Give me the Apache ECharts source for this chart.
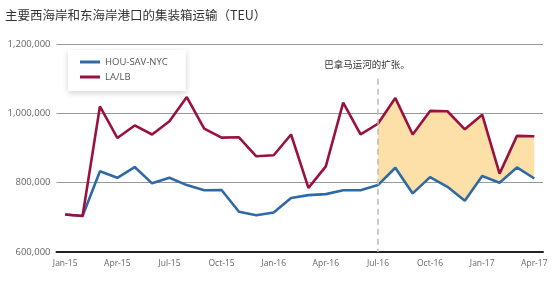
<!DOCTYPE html>
<html><head><meta charset="utf-8">
<script src="https://cdn.jsdelivr.net/npm/echarts@6/dist/echarts.min.js"></script>
<style>html,body{margin:0;padding:0;background:#fff}#c{width:555px;height:281px}</style>
</head><body><div id="c"></div>
<script>
var categories = ['Jan-15','Feb-15','Mar-15','Apr-15','May-15','Jun-15','Jul-15','Aug-15','Sep-15','Oct-15','Nov-15','Dec-15',
  'Jan-16','Feb-16','Mar-16','Apr-16','May-16','Jun-16','Jul-16','Aug-16','Sep-16','Oct-16','Nov-16','Dec-16',
  'Jan-17','Feb-17','Mar-17','Apr-17'];
var houSavNyc = [708000,704000,833000,814000,845000,798000,814000,793000,778000,779000,716000,706000,
  714000,756000,764000,767000,778000,778000,793000,843000,769000,816000,788000,748000,
  819000,800000,844000,812000];
var laLb = [708000,704000,1020000,929000,965000,939000,977000,1047000,956000,930000,931000,876000,
  879000,939000,785000,847000,1031000,939000,970000,1044000,939000,1007000,1006000,954000,
  996000,826000,935000,934000];
var yTicks = [600000,800000,1000000,1200000];
var expansionMonth = 'Jul-16';
var expansionTop = 1100000;
var titleText = '主要西海岸和东海岸港口的集装箱运输（TEU）';
var noteText = '巴拿马运河的扩张。';

var startIdx = categories.indexOf(expansionMonth);
var base = houSavNyc.map(function(v,i){return i>=startIdx?v:'-';});
var diff = laLb.map(function(v,i){return i>=startIdx?v-houSavNyc[i]:'-';});

var chart = echarts.init(document.getElementById('c'));
chart.setOption({
  animation:false,
  title:{text:titleText,left:0,top:4,textStyle:{fontSize:12.5,fontWeight:'normal',color:'#333',fontFamily:'Noto Sans CJK SC'}},
  grid:{left:56.5,right:12,top:44,bottom:29},
  legend:{
    left:68,top:50,orient:'vertical',itemGap:5,itemWidth:20,itemHeight:3,
    padding:[7,18,9,12],backgroundColor:'#fff',
    shadowColor:'rgba(0,0,0,0.18)',shadowBlur:6,shadowOffsetY:2,
    textStyle:{fontSize:9.5,color:'#555',fontFamily:'Open Sans'},
    data:[{name:'HOU-SAV-NYC',icon:'rect'},{name:'LA/LB',icon:'rect'}]
  },
  xAxis:{type:'category',data:categories,boundaryGap:true,
    axisLine:{lineStyle:{color:'#222',width:2}},axisTick:{show:false},
    axisLabel:{interval:2,fontSize:8.5,color:'#666',margin:7,fontFamily:'Open Sans'}},
  yAxis:{type:'value',min:600000,max:1200000,interval:200000,
    axisLine:{show:false},axisTick:{show:false},
    splitLine:{lineStyle:{color:'#999',width:1}},
    axisLabel:{fontSize:9.5,color:'#666',margin:6,fontFamily:'Open Sans',
      formatter:function(v){return v.toLocaleString('en-US');}}},
  series:[
    {name:'base',type:'line',stack:'band',data:base,symbol:'none',lineStyle:{opacity:0},silent:true,z:1},
    {name:'band',type:'line',stack:'band',data:diff,symbol:'none',lineStyle:{opacity:0},
      areaStyle:{color:'#fde0a8',opacity:1},silent:true,z:1},
    {name:'HOU-SAV-NYC',type:'line',data:houSavNyc,symbol:'none',color:'#2f6aa6',
      lineStyle:{width:2.6,color:'#2f6aa6'},z:3,
      markLine:{symbol:'none',silent:true,
        lineStyle:{type:[6,4],color:'#bbb',width:1.5},
        label:{show:true,position:'start',formatter:noteText,fontSize:9.5,color:'#333',distance:10,
          fontFamily:'Noto Sans CJK SC',offset:[-11,0]},
        data:[[{coord:[expansionMonth,expansionTop]},{coord:[expansionMonth,600000]}]]}},
    {name:'LA/LB',type:'line',data:laLb,symbol:'none',color:'#9a1040',
      lineStyle:{width:2.6,color:'#9a1040'},z:4}
  ]
});
</script></body></html>
